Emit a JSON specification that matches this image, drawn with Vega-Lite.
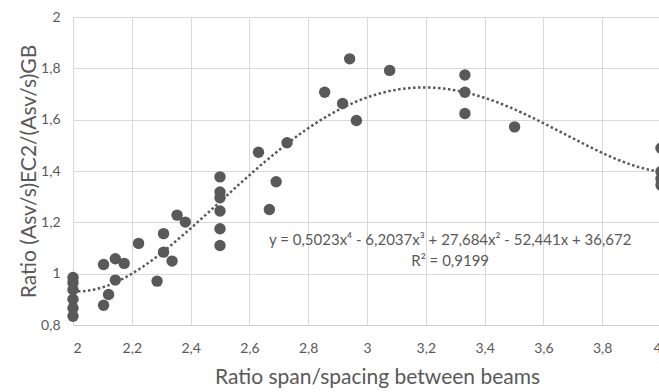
{
  "$schema": "https://vega.github.io/schema/vega-lite/v6.json",
  "width": 588,
  "height": 308,
  "autosize": {"type": "none"},
  "padding": {"left": 73, "top": 17, "right": 0, "bottom": 67},
  "background": "white",
  "config": {
    "view": {"stroke": null},
    "font": "Lato",
    "axis": {
      "gridColor": "#d9d9d9",
      "gridWidth": 1,
      "ticks": false,
      "labelColor": "#595959",
      "labelFont": "Lato",
      "labelFontSize": 14,
      "titleColor": "#595959",
      "titleFont": "Lato",
      "titleFontSize": 21,
      "titleFontWeight": "normal"
    }
  },
  "datasets": {
    "points": [
      {"span": 2.0, "ratio": 0.985},
      {"span": 2.0, "ratio": 0.965},
      {"span": 2.0, "ratio": 0.937},
      {"span": 2.0, "ratio": 0.900},
      {"span": 2.0, "ratio": 0.865},
      {"span": 2.0, "ratio": 0.834},
      {"span": 2.104, "ratio": 1.036},
      {"span": 2.104, "ratio": 0.877},
      {"span": 2.121, "ratio": 0.919},
      {"span": 2.144, "ratio": 1.058},
      {"span": 2.144, "ratio": 0.975},
      {"span": 2.174, "ratio": 1.040},
      {"span": 2.223, "ratio": 1.118},
      {"span": 2.286, "ratio": 0.971},
      {"span": 2.308, "ratio": 1.156},
      {"span": 2.308, "ratio": 1.084},
      {"span": 2.337, "ratio": 1.049},
      {"span": 2.354, "ratio": 1.228},
      {"span": 2.382, "ratio": 1.201},
      {"span": 2.5, "ratio": 1.377},
      {"span": 2.5, "ratio": 1.318},
      {"span": 2.5, "ratio": 1.296},
      {"span": 2.5, "ratio": 1.244},
      {"span": 2.5, "ratio": 1.175},
      {"span": 2.5, "ratio": 1.110},
      {"span": 2.631, "ratio": 1.473},
      {"span": 2.668, "ratio": 1.250},
      {"span": 2.691, "ratio": 1.358},
      {"span": 2.728, "ratio": 1.510},
      {"span": 2.856, "ratio": 1.707},
      {"span": 2.917, "ratio": 1.663},
      {"span": 2.941, "ratio": 1.837},
      {"span": 2.964, "ratio": 1.597},
      {"span": 3.077, "ratio": 1.792},
      {"span": 3.333, "ratio": 1.774},
      {"span": 3.333, "ratio": 1.707},
      {"span": 3.333, "ratio": 1.624},
      {"span": 3.502, "ratio": 1.572},
      {"span": 4.0, "ratio": 1.489},
      {"span": 4.0, "ratio": 1.398},
      {"span": 4.0, "ratio": 1.370},
      {"span": 4.0, "ratio": 1.345}
    ],
    "notes": [
      {"span": 3.283, "ratio": 1.133, "label": "y = 0,5023x⁴ - 6,2037x³ + 27,684x² - 52,441x + 36,672"},
      {"span": 3.283, "ratio": 1.049, "label": "R² = 0,9199"}
    ]
  },
  "layer": [
    {
      "data": {"name": "points"},
      "mark": {"type": "circle", "size": 130, "color": "#595959", "opacity": 1},
      "encoding": {
        "x": {
          "field": "span", "type": "quantitative",
          "scale": {"domain": [2, 4], "nice": false, "zero": false},
          "axis": {
            "title": "Ratio span/spacing between beams",
            "values": [2, 2.2, 2.4, 2.6, 2.8, 3, 3.2, 3.4, 3.6, 3.8, 4],
            "labelExpr": "replace(format(datum.value, '~g'), '.', ',')",
            "labelPadding": 16,
            "titlePadding": 11,
            "titleX": 304,
            "domain": true,
            "domainColor": "#d0d0d0",
            "domainWidth": 1.2
          }
        },
        "y": {
          "field": "ratio", "type": "quantitative",
          "scale": {"domain": [0.8, 2], "nice": false, "zero": false},
          "axis": {
            "title": "Ratio (Asv/s)EC2/(Asv/s)GB",
            "values": [0.8, 1, 1.2, 1.4, 1.6, 1.8, 2],
            "labelExpr": "replace(format(datum.value, '~g'), '.', ',')",
            "labelPadding": 13,
            "titlePadding": 1,
            "domain": false
          }
        }
      }
    },
    {
      "data": {"name": "points"},
      "transform": [
        {"regression": "ratio", "on": "span", "method": "poly", "order": 4, "extent": [2, 4]}
      ],
      "mark": {"type": "line", "color": "#595959", "strokeWidth": 2.5, "strokeDash": [2.5, 2.5], "strokeCap": "butt"},
      "encoding": {
        "x": {"field": "span", "type": "quantitative"},
        "y": {"field": "ratio", "type": "quantitative"}
      }
    },
    {
      "data": {"name": "notes"},
      "mark": {"type": "text", "color": "#595959", "font": "Lato", "fontSize": 15, "align": "center", "baseline": "middle"},
      "encoding": {
        "x": {"field": "span", "type": "quantitative"},
        "y": {"field": "ratio", "type": "quantitative"},
        "text": {"field": "label"}
      }
    }
  ]
}
